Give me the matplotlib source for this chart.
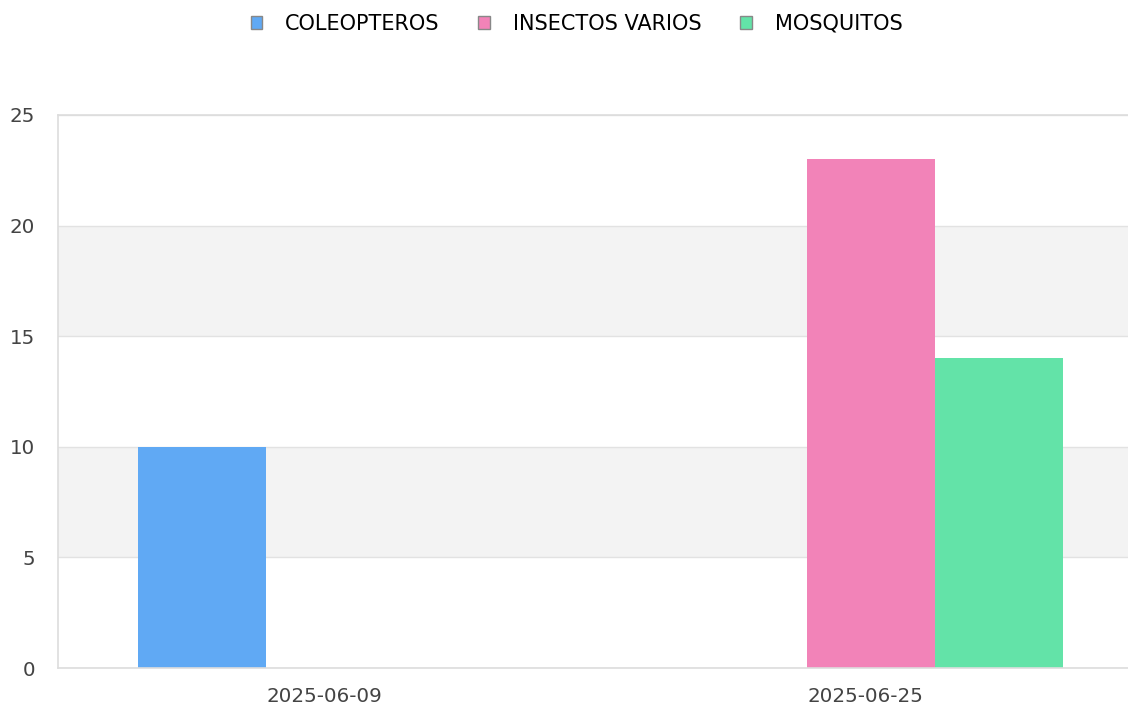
import matplotlib.pyplot as plt
import numpy as np
from matplotlib.patches import Patch

plt.rcParams["font.family"] = ["DejaVu Sans"]

dates = ["2025-06-09", "2025-06-25"]
series = ["COLEOPTEROS", "INSECTOS VARIOS", "MOSQUITOS"]
coleopteros = [10, 0]
insectos_varios = [0, 23]
mosquitos = [0, 14]
colors = ["#60a9f4", "#f283b8", "#63e3a8"]

values = [coleopteros, insectos_varios, mosquitos]

fig = plt.figure(figsize=(11.28, 7.07), dpi=100)
ax = fig.add_axes([58 / 1128, 1 - 668 / 707, 1082 / 1128, (668 - 115) / 707])

# alternating horizontal bands
for lo in range(0, 25, 5):
    if (lo // 5) % 2 == 1:
        ax.axhspan(lo, lo + 5, color="#f3f3f3", zorder=0, lw=0)
    ax.axhline(lo, color="#e2e2e2", lw=1, zorder=0.5)
ax.axhline(25, color="#e2e2e2", lw=1, zorder=0.5)

x = np.arange(len(dates))
width = 0.2366
for i, (name, vals, c) in enumerate(zip(series, values, colors)):
    ax.bar(x + (i - 1) * width + 0.01, vals, width, color=c, label=name, zorder=2, linewidth=0)

ax.set_xlim(-0.4926, 1.5074)
ax.set_ylim(0, 25)
ax.set_yticks([0, 5, 10, 15, 20, 25])
ax.set_xticks(x)
ax.set_xticklabels(dates)
ax.tick_params(axis="both", length=0, labelsize=14.3, colors="#444444")
ax.tick_params(axis="y", pad=16.5)
ax.tick_params(axis="x", pad=14)
for s in ax.spines.values():
    s.set_color("#dddddd")
    s.set_linewidth(1.2)
ax.spines["right"].set_visible(False)

leg_handles = [Patch(facecolor=c, edgecolor="#888888", lw=1) for c in colors]
fig.legend(leg_handles, series, loc="upper center", bbox_to_anchor=(0.511, 1.004),
           ncol=3, frameon=False, fontsize=15, handlelength=0.56, handleheight=0.56,
           handletextpad=1.1, columnspacing=1.85, borderpad=0.3)

fig.savefig("out.png", dpi=100)
